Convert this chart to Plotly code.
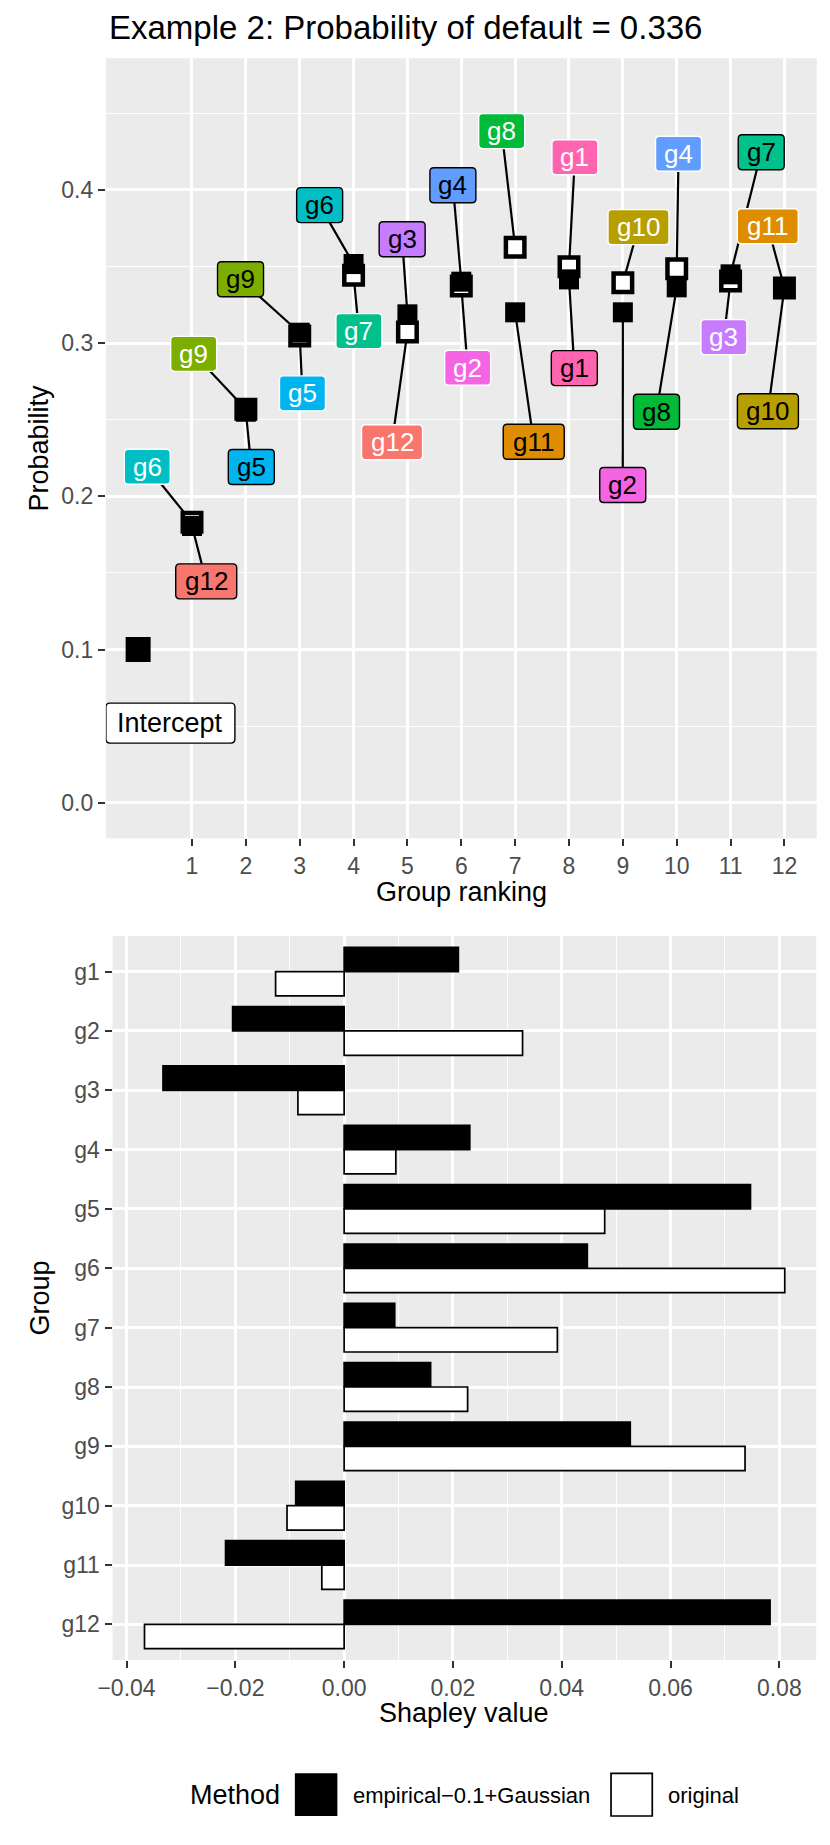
import plotly.graph_objects as go

W, H = 830, 1845

title_text = "Example 2: Probability of default = 0.336"

# bottom panel: Shapley value per group and method
groups = ["g1", "g2", "g3", "g4", "g5", "g6", "g7", "g8", "g9", "g10", "g11", "g12"]
shap_empirical = [0.0210, -0.0205, -0.0333, 0.0231, 0.0747, 0.0447,
                  0.0093, 0.0159, 0.0526, -0.0089, -0.0218, 0.0783]
shap_original = [-0.0126, 0.0328, -0.0085, 0.0095, 0.0479, 0.0810,
                 0.0392, 0.0227, 0.0737, -0.0105, -0.0041, -0.0367]

# top panel: cumulative prediction after adding groups by |Shapley| rank
ranking = [1, 2, 3, 4, 5, 6, 7, 8, 9, 10, 11, 12]
rank_group_empirical = ["g12", "g5", "g9", "g6", "g3", "g4", "g11", "g1", "g2", "g8", "g7", "g10"]
rank_group_original = ["g6", "g9", "g5", "g7", "g12", "g2", "g8", "g1", "g10", "g4", "g3", "g11"]
cum_empirical = [0.1806, 0.2552, 0.3068, 0.3516, 0.3188, 0.3401,
                 0.3201, 0.3416, 0.3201, 0.3364, 0.3449, 0.3360]
cum_original = [0.1831, 0.2569, 0.3047, 0.3443, 0.3073, 0.3373,
                0.3625, 0.3499, 0.3394, 0.3486, 0.3406, 0.3360]
intercept_x = [0]
intercept_y = [0.1]

# where the repelled labels ended up (data units)
lab_emp_x = [1.264, 2.101, 1.901, 3.370, 4.902, 5.844, 7.345, 8.099, 8.998, 9.624, 11.569, 11.693]
lab_emp_y = [0.1445, 0.2191, 0.3417, 0.3901, 0.3678, 0.4030, 0.2356, 0.2837, 0.2074, 0.2552, 0.4246, 0.2555]
lab_orig_x = [0.169, 1.031, 3.051, 4.099, 4.714, 6.118, 6.750, 8.110, 9.290, 10.034, 10.876, 11.691]
lab_orig_y = [0.2193, 0.2930, 0.2672, 0.3078, 0.2353, 0.2839, 0.4384, 0.4213, 0.3757, 0.4236, 0.3039, 0.3763]
lab_icpt = (0.599, 0.052)

group_colors = {
    "g12": "#F8766D", "g11": "#DE8C00", "g10": "#B79F00", "g9": "#7CAE00",
    "g8": "#00BA38", "g7": "#00C08B", "g6": "#00BFC4", "g5": "#00B4F0",
    "g4": "#619CFF", "g3": "#C77CFF", "g2": "#F564E3", "g1": "#FF64B0",
}

FONT = "Liberation Sans, Arial, sans-serif"
GRID = "white"
TICKC = "#333333"
TXTC = "#4D4D4D"


def px_x(p):
    return p / W


def px_y(p):
    return 1 - p / H


def rounded(w, h, r=4):
    a, b = w / 2, h / 2
    return (f"M {-a + r},{-b} L {a - r},{-b} Q {a},{-b} {a},{-b + r} "
            f"L {a},{b - r} Q {a},{b} {a - r},{b} L {-a + r},{b} "
            f"Q {-a},{b} {-a},{b - r} L {-a},{-b + r} Q {-a},{-b} {-a + r},{-b} Z")


fig = go.Figure()

# segments from points to labels
seg_x, seg_y = [], []
for i in range(len(ranking)):
    seg_x += [ranking[i], lab_emp_x[i], None, ranking[i], lab_orig_x[i], None]
    seg_y += [cum_empirical[i], lab_emp_y[i], None, cum_original[i], lab_orig_y[i], None]
fig.add_trace(go.Scatter(x=seg_x, y=seg_y, mode="lines", line=dict(color="black", width=2.2),
                         hoverinfo="skip", showlegend=False))

fig.add_trace(go.Scatter(x=ranking, y=cum_original, mode="markers", name="original",
                         marker=dict(symbol="square", size=18.5, color="white",
                                     line=dict(color="black", width=4.5)),
                         showlegend=False))
fig.add_trace(go.Scatter(x=ranking, y=cum_empirical, mode="markers", name="empirical-0.1+Gaussian",
                         marker=dict(symbol="square", size=20, color="black", line=dict(width=0)),
                         showlegend=False))
fig.add_trace(go.Scatter(x=intercept_x, y=intercept_y, mode="markers",
                         marker=dict(symbol="square", size=25, color="black", line=dict(width=0)),
                         showlegend=False))

# bars
fig.add_trace(go.Bar(y=groups, x=shap_empirical, orientation="h", name="empirical−0.1+Gaussian",
                     marker=dict(color="black", line=dict(color="black", width=1.7)),
                     xaxis="x2", yaxis="y2", showlegend=False))
fig.add_trace(go.Bar(y=groups, x=shap_original, orientation="h", name="original",
                     marker=dict(color="white", line=dict(color="black", width=1.7)),
                     xaxis="x2", yaxis="y2", showlegend=False))

shapes = []
annotations = []


def add_label(x, y, text, fill, edge, txt, w, h, fs):
    shapes.append(dict(type="path", xref="x", yref="y", xsizemode="pixel", ysizemode="pixel",
                       xanchor=x, yanchor=y, path=rounded(w, h), fillcolor=fill,
                       line=dict(color=edge, width=1.4), layer="above"))
    annotations.append(dict(x=x, y=y, xref="x", yref="y", text=text, showarrow=False,
                            xanchor="center", yanchor="middle",
                            font=dict(family=FONT, size=fs, color=txt)))


for i in range(len(ranking)):
    g = rank_group_original[i]
    add_label(lab_orig_x[i], lab_orig_y[i], g, group_colors[g], "white", "white",
              46 if len(g) == 2 else 61, 35, 26)
    g = rank_group_empirical[i]
    add_label(lab_emp_x[i], lab_emp_y[i], g, group_colors[g], "black", "black",
              46 if len(g) == 2 else 61, 35, 26)
add_label(lab_icpt[0], lab_icpt[1], "Intercept", "white", "black", "black", 129, 40, 27)

# titles
annotations.append(dict(x=px_x(94), y=px_y(27), xref="paper", yref="paper", text=title_text,
                        showarrow=False, xanchor="left", yanchor="middle",
                        font=dict(family=FONT, size=33, color="black")))
annotations.append(dict(x=px_x(454.5), y=px_y(892), xref="paper", yref="paper", text="Group ranking",
                        showarrow=False, xanchor="center", yanchor="middle",
                        font=dict(family=FONT, size=27, color="black")))
annotations.append(dict(x=px_x(24), y=px_y(448), xref="paper", yref="paper", text="Probability",
                        showarrow=False, xanchor="center", yanchor="middle", textangle=-90,
                        font=dict(family=FONT, size=27, color="black")))
annotations.append(dict(x=px_x(457.7), y=px_y(1713), xref="paper", yref="paper", text="Shapley value",
                        showarrow=False, xanchor="center", yanchor="middle",
                        font=dict(family=FONT, size=27, color="black")))
annotations.append(dict(x=px_x(25), y=px_y(1298), xref="paper", yref="paper", text="Group",
                        showarrow=False, xanchor="center", yanchor="middle", textangle=-90,
                        font=dict(family=FONT, size=27, color="black")))

# legend drawn by hand so the keys get ggplot's size
annotations.append(dict(x=px_x(176), y=px_y(1795), xref="paper", yref="paper", text="Method",
                        showarrow=False, xanchor="left", yanchor="middle",
                        font=dict(family=FONT, size=27, color="black")))
shapes.append(dict(type="rect", xref="paper", yref="paper", x0=px_x(285), x1=px_x(328.3),
                   y0=px_y(1816), y1=px_y(1773.3), fillcolor="black", line=dict(width=0)))
annotations.append(dict(x=px_x(342), y=px_y(1795), xref="paper", yref="paper",
                        text="empirical−0.1+Gaussian", showarrow=False, xanchor="left",
                        yanchor="middle", font=dict(family=FONT, size=22, color="black")))
shapes.append(dict(type="rect", xref="paper", yref="paper", x0=px_x(607), x1=px_x(649),
                   y0=px_y(1816), y1=px_y(1773.3), fillcolor="white",
                   line=dict(color="black", width=1.7)))
annotations.append(dict(x=px_x(663), y=px_y(1795), xref="paper", yref="paper", text="original",
                        showarrow=False, xanchor="left", yanchor="middle",
                        font=dict(family=FONT, size=22, color="black")))

axis_common = dict(showgrid=True, gridcolor=GRID, gridwidth=2.8, zeroline=False, showline=False,
                   ticks="outside", ticklen=7, tickwidth=2.4, tickcolor=TICKC,
                   tickfont=dict(family=FONT, size=23, color=TXTC))

fig.update_layout(
    width=W, height=H,
    margin=dict(l=0, r=0, t=0, b=0),
    paper_bgcolor="white", plot_bgcolor="#EBEBEB",
    showlegend=False,
    barmode="group", bargap=0.18, bargroupgap=0,
    shapes=shapes, annotations=annotations,
    xaxis=dict(domain=[px_x(92.5), px_x(816.5)], anchor="y", range=[-0.6, 12.6],
               tickmode="array", tickvals=ranking, ticktext=[str(r) for r in ranking],
               **axis_common),
    yaxis=dict(domain=[px_y(838.3), px_y(58.3)], anchor="x", range=[-0.0232, 0.4859],
               tickmode="array", tickvals=[0, 0.1, 0.2, 0.3, 0.4],
               ticktext=["0.0", "0.1", "0.2", "0.3", "0.4"],
               minor=dict(tickmode="array", tickvals=[0.05, 0.15, 0.25, 0.35, 0.45],
                          showgrid=True, gridcolor=GRID, gridwidth=1.4, ticks=""),
               **axis_common),
    xaxis2=dict(domain=[px_x(99.3), px_x(816)], anchor="y2", range=[-0.04258, 0.08679],
                tickmode="array", tickvals=[-0.04, -0.02, 0, 0.02, 0.04, 0.06, 0.08],
                ticktext=["−0.04", "−0.02", "0.00", "0.02", "0.04", "0.06", "0.08"],
                minor=dict(tickmode="array", tickvals=[-0.03, -0.01, 0.01, 0.03, 0.05, 0.07],
                           showgrid=True, gridcolor=GRID, gridwidth=1.4, ticks=""),
                **axis_common),
    yaxis2=dict(domain=[px_y(1660), px_y(936)], anchor="x2", type="category",
                categoryorder="array", categoryarray=groups, range=[11.6, -0.6],
                **axis_common),
)

# the page body keeps its default margin otherwise, which shifts the whole figure
fig.write_html("out.html", config={"displayModeBar": False},
               post_script="document.body.style.margin='0px';")
